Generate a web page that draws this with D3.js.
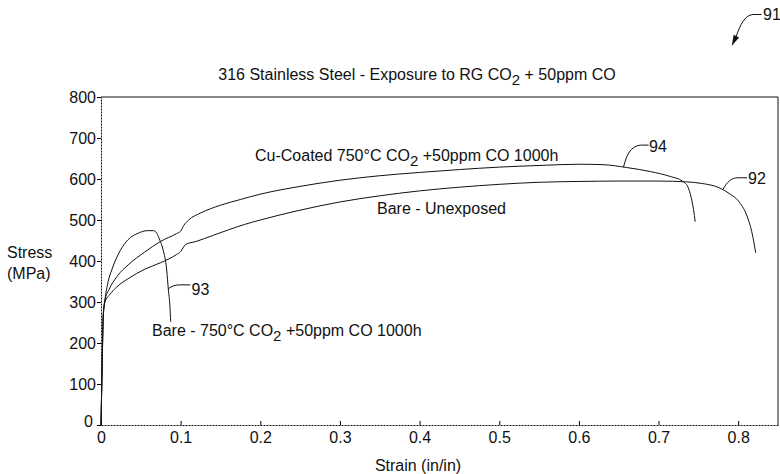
<!DOCTYPE html>
<html><head><meta charset="utf-8">
<script src="https://cdn.jsdelivr.net/npm/d3@7"></script>
<style>
body{margin:0;background:#fff;}
text{font-family:"Liberation Sans",Arial,sans-serif;fill:#111;}
</style></head>
<body>
<svg id="chart" width="780" height="474"></svg>
<script>
// ---- data ----
const xTicks = [0, 0.1, 0.2, 0.3, 0.4, 0.5, 0.6, 0.7, 0.8];
const yTicks = [0, 100, 200, 300, 400, 500, 600, 700, 800];

// 92: Bare - Unexposed  [strain, stress]
const bareUnexposed = [[0,0],[0.0015,150],[0.0028,265],[0.005,300],[0.011,318],[0.02,337],[0.035,358],[0.055,380],[0.075,396],[0.095,416],[0.1,423],[0.103,432],[0.106,440],[0.12,448],[0.14,462],[0.16,476],[0.18,489],[0.2,500],[0.25,524],[0.3,544],[0.35,559],[0.4,571],[0.45,580],[0.5,587],[0.55,592],[0.6,594],[0.65,595],[0.7,595],[0.735,593],[0.755,589],[0.777,578],[0.79,563],[0.8,547],[0.811,510],[0.817,472],[0.822,420]];
// 94: Cu-Coated 750°C CO2 +50ppm CO 1000h
const cuCoated = [[0,0],[0.0015,150],[0.0028,265],[0.005,305],[0.01,330],[0.02,362],[0.035,392],[0.055,422],[0.075,448],[0.095,467],[0.1,473],[0.104,487],[0.11,500],[0.125,517],[0.15,536],[0.175,550],[0.2,563],[0.25,582],[0.3,597],[0.35,608],[0.4,616],[0.45,623],[0.5,629],[0.55,633],[0.6,636],[0.63,635],[0.66,628],[0.69,618],[0.715,606],[0.73,595],[0.737,580],[0.741,555],[0.744,525],[0.746,496]];
// 93: Bare - 750°C CO2 +50ppm CO 1000h
const bareExposed = [[0,0],[0.0015,150],[0.0028,265],[0.005,305],[0.009,350],[0.0135,378],[0.024,425],[0.034,452],[0.047,468],[0.058,474],[0.066,474],[0.07,468],[0.074,450],[0.078,427],[0.0825,378],[0.0845,332],[0.0865,290],[0.0875,252]];

const seriesNames = ["Cu-Coated 750°C CO", "Bare - Unexposed", "Bare - 750°C CO"];
// reference-number callouts: id, [strain, stress] on curve
const callouts = [
  {id:"94", at:[0.656,629]},
  {id:"92", at:[0.781,575]},
  {id:"93", at:[0.0845,332]}
];

// ---- chart ----
const svg = d3.select("#chart");
const x = d3.scaleLinear().domain([0, 0.85]).range([101, 778]);
const y = d3.scaleLinear().domain([0, 800]).range([425, 97]);
const FS = 16;

// frame: top and right solid
svg.append("path")
  .attr("d", `M${x(0)},${y(800)}H${x(0.85)}V${y(0)}`)
  .attr("fill","none").attr("stroke","#111").attr("stroke-width",1);

// x axis (inward ticks)
const gx = svg.append("g").attr("transform",`translate(0,${y(0)})`)
  .call(d3.axisBottom(x).tickValues(xTicks).tickSizeInner(-4).tickSizeOuter(0).tickPadding(7)
    .tickFormat(d => d === 0 ? "0" : d3.format(".1f")(d)));
gx.select(".domain").attr("stroke","#111").attr("stroke-dasharray","2,1");
gx.selectAll("text").attr("font-size",FS).attr("font-family","Liberation Sans, Arial, sans-serif").attr("fill","#111");

// y axis (outward ticks)
const gy = svg.append("g").attr("transform",`translate(${x(0)},0)`)
  .call(d3.axisLeft(y).tickValues(yTicks).tickSize(4).tickSizeOuter(0).tickPadding(1));
gy.select(".domain").attr("stroke","#111").attr("stroke-dasharray","2,1");
gy.selectAll("text").attr("font-size",FS).attr("font-family","Liberation Sans, Arial, sans-serif").attr("fill","#111");
gy.selectAll(".tick").filter(d => d === 0).select("text").attr("x",-8).attr("dy","0.1em");

// curves
const line = d3.line().x(d => x(d[0])).y(d => y(d[1])).curve(d3.curveMonotoneX);
[bareUnexposed, cuCoated, bareExposed].forEach(s => {
  svg.append("path").datum(s).attr("d", line)
    .attr("fill","none").attr("stroke","#111").attr("stroke-width",1);
});

// helper for text with CO2 subscript
function labelCO2(xp, yp, before, after){
  const t = svg.append("text").attr("x",xp).attr("y",yp).attr("font-size",FS);
  t.append("tspan").text(before);
  t.append("tspan").attr("dy",5).attr("font-size",15).text("2");
  t.append("tspan").attr("dy",-5).text(after);
  return t;
}

// title
const title = svg.append("text").attr("x",417).attr("y",80).attr("text-anchor","middle").attr("font-size",FS);
title.append("tspan").text("316 Stainless Steel - Exposure to RG CO");
title.append("tspan").attr("dy",5).attr("font-size",15).text("2");
title.append("tspan").attr("dy",-5).text(" + 50ppm CO");

// series labels
labelCO2(255, 161, seriesNames[0], " +50ppm CO 1000h");
svg.append("text").attr("x",377).attr("y",214).attr("font-size",FS).text(seriesNames[1]);
labelCO2(152, 336, seriesNames[2], " +50ppm CO 1000h");

// axis titles
svg.append("text").attr("x",7).attr("y",258).attr("font-size",FS).text("Stress");
svg.append("text").attr("x",7).attr("y",279).attr("font-size",FS).text("(MPa)");
svg.append("text").attr("x",418).attr("y",471).attr("text-anchor","middle").attr("font-size",FS).text("Strain (in/in)");

// callouts
const calloutGeom = {
  "94": {tx:649, ty:152, path:(px,py)=>`M${px},${py}C${px+3},${py-12} ${px+7},${py-21} ${px+17},${py-22}L${px+25},${py-22}`},
  "92": {tx:748, ty:184, path:(px,py)=>`M${px},${py}C${px+4},${py-7} ${px+8},${py-11.5} ${px+15},${py-11.5}L${px+24},${py-11.5}`},
  "93": {tx:191.5, ty:294.5, path:(px,py)=>`M${px},${py}C${px+3.5},${py-3} ${px+7.5},${py-4} ${px+11.5},${py-4}L${px+22},${py-4}`}
};
callouts.forEach(c => {
  const g = calloutGeom[c.id];
  const px = x(c.at[0]), py = y(c.at[1]);
  svg.append("path").attr("d", g.path(px,py)).attr("fill","none").attr("stroke","#111").attr("stroke-width",1);
  svg.append("text").attr("x",g.tx).attr("y",g.ty).attr("font-size",FS).text(c.id);
});

// figure number 91 with arrow
svg.append("text").attr("x",763).attr("y",20).attr("font-size",FS).text("91");
svg.append("path").attr("d","M761.5,14.5L753,14.5C745,15 740,25 736.3,36.2")
  .attr("fill","none").attr("stroke","#111").attr("stroke-width",1);
svg.append("path").attr("d","M731.7,46L739,37.6L733.7,34.8Z").attr("fill","#111");
</script>
</body></html>
